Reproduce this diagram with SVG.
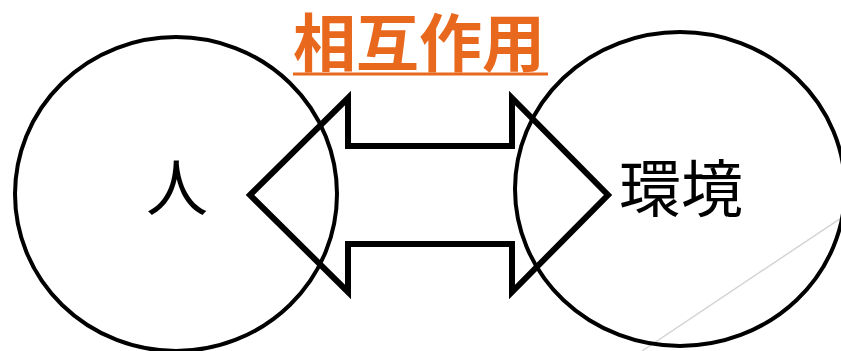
<svg xmlns="http://www.w3.org/2000/svg" width="841" height="351" viewBox="0 0 841 351">
<style>
.node{fill:none;stroke:#000;stroke-width:4}
.lbl{font-family:"Noto Sans CJK JP","Noto Sans CJK SC",sans-serif;font-size:62px;fill:#000;text-anchor:middle}
.title{font-family:"Noto Sans CJK JP","Noto Sans CJK SC",sans-serif;font-size:63px;font-weight:bold;fill:#E8691E;text-anchor:middle}
</style>
<rect width="841" height="351" fill="#fff"/>
<line x1="642" y1="351" x2="841" y2="218" stroke="#d4d4d4" stroke-width="1.5"/>
<g id="person">
<ellipse class="node" cx="176" cy="194" rx="161" ry="157"/>
<text class="lbl" x="177" y="211">人</text>
</g>
<g id="environment">
<ellipse class="node" cx="680" cy="189" rx="165" ry="157"/>
<text class="lbl" x="681" y="212">環境</text>
</g>
<g id="connectors">
<polygon points="250,195 348,98 348,146 512,146 512,98 608,195 512,292 512,244 348,244 348,292" fill="none" stroke="#000" stroke-width="6" stroke-linejoin="miter"/>
</g>
<g id="title">
<text class="title" x="419" y="66">相互作用</text>
<line x1="293" y1="74" x2="548" y2="74" stroke="#E8691E" stroke-width="3"/>
</g>
</svg>
